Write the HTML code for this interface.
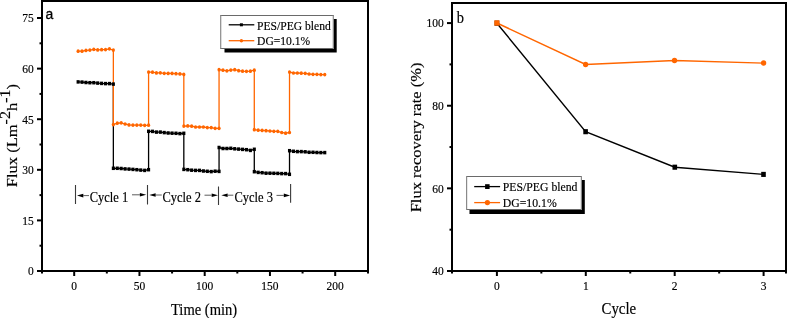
<!DOCTYPE html>
<html><head><meta charset="utf-8"><style>
html,body{margin:0;padding:0;background:#fff;}
body{width:787px;height:318px;overflow:hidden;font-family:"Liberation Serif",serif;}
svg{display:block;will-change:transform;}
</style></head><body>
<svg width="787" height="318" viewBox="0 0 787 318">
<rect width="787" height="318" fill="#fff"/>
<polyline points="78.12,81.9 82.03,82.1 85.95,82.5 89.86,82.7 93.78,82.7 97.69,83.1 101.61,83.4 105.52,83.6 109.44,83.6 113.35,84.1 113.35,168.3 117.27,168.3 121.18,168.5 125.09,168.9 129.01,169.1 132.93,169.4 136.84,169.7 140.75,170.1 144.67,170.4 148.58,169.7 148.58,131.3 152.5,131.4 156.41,132.1 160.33,132.1 164.25,132.6 168.16,133 172.07,133.2 175.99,133.3 179.91,133.6 183.82,133.3 183.82,169.4 187.74,169.7 191.65,170.2 195.56,170.4 199.48,170.4 203.39,171 207.31,171.3 211.23,171.6 215.14,171.2 219.06,171.4 219.06,147.5 222.97,148.5 226.88,148.5 230.8,148.3 234.71,148.8 238.63,149.1 242.55,149.4 246.46,149.7 250.38,150.4 254.29,149.3 254.29,171.7 258.2,172.4 262.12,172.7 266.03,173.2 269.95,173.2 273.87,173.3 277.78,173.4 281.69,173.6 285.61,173.6 289.52,174.3 289.52,150.7 293.44,151.3 297.36,151.6 301.27,151.6 305.19,151.8 309.1,152.3 313.01,152.3 316.93,152.5 320.84,152.6 324.76,152.6" fill="none" stroke="#000000" stroke-width="1.3"/>
<polyline points="78.12,51.2 82.03,51.2 85.95,50.4 89.86,50.1 93.78,49.3 97.69,49.9 101.61,49.7 105.52,49.6 109.44,48.8 113.35,50.1 113.35,124.6 117.27,123.2 121.18,122.8 125.09,124 129.01,124.9 132.93,125.1 136.84,125.1 140.75,125.1 144.67,125.3 148.58,125.2 148.58,72.1 152.5,72.2 156.41,72.9 160.33,72.8 164.25,73.3 168.16,73.4 172.07,73.4 175.99,73.7 179.91,73.9 183.82,74.4 183.82,126.1 187.74,125.9 191.65,126.2 195.56,127 199.48,127 203.39,127 207.31,127.6 211.23,127.6 215.14,128.3 219.06,128.3 219.06,69.7 222.97,70.2 226.88,70.8 230.8,70.1 234.71,69.7 238.63,70.7 242.55,71.2 246.46,71.3 250.38,71.2 254.29,70.2 254.29,129.7 258.2,130.2 262.12,130.4 266.03,130.7 269.95,131 273.87,131.3 277.78,131.3 281.69,132.5 285.61,133.2 289.52,132.5 289.52,72.1 293.44,73 297.36,73 301.27,73.2 305.19,73.3 309.1,74 313.01,74.3 316.93,74.3 320.84,74.6 324.76,74.6" fill="none" stroke="#ff6600" stroke-width="1.3"/>
<rect x="76.57" y="80.15" width="3.1" height="3.5" fill="#000000"/>
<rect x="80.48" y="80.35" width="3.1" height="3.5" fill="#000000"/>
<rect x="84.4" y="80.75" width="3.1" height="3.5" fill="#000000"/>
<rect x="88.31" y="80.95" width="3.1" height="3.5" fill="#000000"/>
<rect x="92.23" y="80.95" width="3.1" height="3.5" fill="#000000"/>
<rect x="96.14" y="81.35" width="3.1" height="3.5" fill="#000000"/>
<rect x="100.06" y="81.65" width="3.1" height="3.5" fill="#000000"/>
<rect x="103.97" y="81.85" width="3.1" height="3.5" fill="#000000"/>
<rect x="107.89" y="81.85" width="3.1" height="3.5" fill="#000000"/>
<rect x="111.8" y="82.35" width="3.1" height="3.5" fill="#000000"/>
<rect x="111.8" y="166.55" width="3.1" height="3.5" fill="#000000"/>
<rect x="115.72" y="166.55" width="3.1" height="3.5" fill="#000000"/>
<rect x="119.63" y="166.75" width="3.1" height="3.5" fill="#000000"/>
<rect x="123.55" y="167.15" width="3.1" height="3.5" fill="#000000"/>
<rect x="127.46" y="167.35" width="3.1" height="3.5" fill="#000000"/>
<rect x="131.38" y="167.65" width="3.1" height="3.5" fill="#000000"/>
<rect x="135.29" y="167.95" width="3.1" height="3.5" fill="#000000"/>
<rect x="139.2" y="168.35" width="3.1" height="3.5" fill="#000000"/>
<rect x="143.12" y="168.65" width="3.1" height="3.5" fill="#000000"/>
<rect x="147.03" y="167.95" width="3.1" height="3.5" fill="#000000"/>
<rect x="147.03" y="129.55" width="3.1" height="3.5" fill="#000000"/>
<rect x="150.95" y="129.65" width="3.1" height="3.5" fill="#000000"/>
<rect x="154.86" y="130.35" width="3.1" height="3.5" fill="#000000"/>
<rect x="158.78" y="130.35" width="3.1" height="3.5" fill="#000000"/>
<rect x="162.69" y="130.85" width="3.1" height="3.5" fill="#000000"/>
<rect x="166.61" y="131.25" width="3.1" height="3.5" fill="#000000"/>
<rect x="170.52" y="131.45" width="3.1" height="3.5" fill="#000000"/>
<rect x="174.44" y="131.55" width="3.1" height="3.5" fill="#000000"/>
<rect x="178.35" y="131.85" width="3.1" height="3.5" fill="#000000"/>
<rect x="182.27" y="131.55" width="3.1" height="3.5" fill="#000000"/>
<rect x="182.27" y="167.65" width="3.1" height="3.5" fill="#000000"/>
<rect x="186.19" y="167.95" width="3.1" height="3.5" fill="#000000"/>
<rect x="190.1" y="168.45" width="3.1" height="3.5" fill="#000000"/>
<rect x="194.01" y="168.65" width="3.1" height="3.5" fill="#000000"/>
<rect x="197.93" y="168.65" width="3.1" height="3.5" fill="#000000"/>
<rect x="201.84" y="169.25" width="3.1" height="3.5" fill="#000000"/>
<rect x="205.76" y="169.55" width="3.1" height="3.5" fill="#000000"/>
<rect x="209.68" y="169.85" width="3.1" height="3.5" fill="#000000"/>
<rect x="213.59" y="169.45" width="3.1" height="3.5" fill="#000000"/>
<rect x="217.5" y="169.65" width="3.1" height="3.5" fill="#000000"/>
<rect x="217.5" y="145.75" width="3.1" height="3.5" fill="#000000"/>
<rect x="221.42" y="146.75" width="3.1" height="3.5" fill="#000000"/>
<rect x="225.33" y="146.75" width="3.1" height="3.5" fill="#000000"/>
<rect x="229.25" y="146.55" width="3.1" height="3.5" fill="#000000"/>
<rect x="233.16" y="147.05" width="3.1" height="3.5" fill="#000000"/>
<rect x="237.08" y="147.35" width="3.1" height="3.5" fill="#000000"/>
<rect x="241" y="147.65" width="3.1" height="3.5" fill="#000000"/>
<rect x="244.91" y="147.95" width="3.1" height="3.5" fill="#000000"/>
<rect x="248.82" y="148.65" width="3.1" height="3.5" fill="#000000"/>
<rect x="252.74" y="147.55" width="3.1" height="3.5" fill="#000000"/>
<rect x="252.74" y="169.95" width="3.1" height="3.5" fill="#000000"/>
<rect x="256.65" y="170.65" width="3.1" height="3.5" fill="#000000"/>
<rect x="260.57" y="170.95" width="3.1" height="3.5" fill="#000000"/>
<rect x="264.48" y="171.45" width="3.1" height="3.5" fill="#000000"/>
<rect x="268.4" y="171.45" width="3.1" height="3.5" fill="#000000"/>
<rect x="272.31" y="171.55" width="3.1" height="3.5" fill="#000000"/>
<rect x="276.23" y="171.65" width="3.1" height="3.5" fill="#000000"/>
<rect x="280.14" y="171.85" width="3.1" height="3.5" fill="#000000"/>
<rect x="284.06" y="171.85" width="3.1" height="3.5" fill="#000000"/>
<rect x="287.97" y="172.55" width="3.1" height="3.5" fill="#000000"/>
<rect x="287.97" y="148.95" width="3.1" height="3.5" fill="#000000"/>
<rect x="291.89" y="149.55" width="3.1" height="3.5" fill="#000000"/>
<rect x="295.81" y="149.85" width="3.1" height="3.5" fill="#000000"/>
<rect x="299.72" y="149.85" width="3.1" height="3.5" fill="#000000"/>
<rect x="303.63" y="150.05" width="3.1" height="3.5" fill="#000000"/>
<rect x="307.55" y="150.55" width="3.1" height="3.5" fill="#000000"/>
<rect x="311.46" y="150.55" width="3.1" height="3.5" fill="#000000"/>
<rect x="315.38" y="150.75" width="3.1" height="3.5" fill="#000000"/>
<rect x="319.29" y="150.85" width="3.1" height="3.5" fill="#000000"/>
<rect x="323.21" y="150.85" width="3.1" height="3.5" fill="#000000"/>
<ellipse cx="78.12" cy="51.2" rx="1.6" ry="1.85" fill="#ff6600"/>
<ellipse cx="82.03" cy="51.2" rx="1.6" ry="1.85" fill="#ff6600"/>
<ellipse cx="85.95" cy="50.4" rx="1.6" ry="1.85" fill="#ff6600"/>
<ellipse cx="89.86" cy="50.1" rx="1.6" ry="1.85" fill="#ff6600"/>
<ellipse cx="93.78" cy="49.3" rx="1.6" ry="1.85" fill="#ff6600"/>
<ellipse cx="97.69" cy="49.9" rx="1.6" ry="1.85" fill="#ff6600"/>
<ellipse cx="101.61" cy="49.7" rx="1.6" ry="1.85" fill="#ff6600"/>
<ellipse cx="105.52" cy="49.6" rx="1.6" ry="1.85" fill="#ff6600"/>
<ellipse cx="109.44" cy="48.8" rx="1.6" ry="1.85" fill="#ff6600"/>
<ellipse cx="113.35" cy="50.1" rx="1.6" ry="1.85" fill="#ff6600"/>
<ellipse cx="113.35" cy="124.6" rx="1.6" ry="1.85" fill="#ff6600"/>
<ellipse cx="117.27" cy="123.2" rx="1.6" ry="1.85" fill="#ff6600"/>
<ellipse cx="121.18" cy="122.8" rx="1.6" ry="1.85" fill="#ff6600"/>
<ellipse cx="125.09" cy="124" rx="1.6" ry="1.85" fill="#ff6600"/>
<ellipse cx="129.01" cy="124.9" rx="1.6" ry="1.85" fill="#ff6600"/>
<ellipse cx="132.93" cy="125.1" rx="1.6" ry="1.85" fill="#ff6600"/>
<ellipse cx="136.84" cy="125.1" rx="1.6" ry="1.85" fill="#ff6600"/>
<ellipse cx="140.75" cy="125.1" rx="1.6" ry="1.85" fill="#ff6600"/>
<ellipse cx="144.67" cy="125.3" rx="1.6" ry="1.85" fill="#ff6600"/>
<ellipse cx="148.58" cy="125.2" rx="1.6" ry="1.85" fill="#ff6600"/>
<ellipse cx="148.58" cy="72.1" rx="1.6" ry="1.85" fill="#ff6600"/>
<ellipse cx="152.5" cy="72.2" rx="1.6" ry="1.85" fill="#ff6600"/>
<ellipse cx="156.41" cy="72.9" rx="1.6" ry="1.85" fill="#ff6600"/>
<ellipse cx="160.33" cy="72.8" rx="1.6" ry="1.85" fill="#ff6600"/>
<ellipse cx="164.25" cy="73.3" rx="1.6" ry="1.85" fill="#ff6600"/>
<ellipse cx="168.16" cy="73.4" rx="1.6" ry="1.85" fill="#ff6600"/>
<ellipse cx="172.07" cy="73.4" rx="1.6" ry="1.85" fill="#ff6600"/>
<ellipse cx="175.99" cy="73.7" rx="1.6" ry="1.85" fill="#ff6600"/>
<ellipse cx="179.91" cy="73.9" rx="1.6" ry="1.85" fill="#ff6600"/>
<ellipse cx="183.82" cy="74.4" rx="1.6" ry="1.85" fill="#ff6600"/>
<ellipse cx="183.82" cy="126.1" rx="1.6" ry="1.85" fill="#ff6600"/>
<ellipse cx="187.74" cy="125.9" rx="1.6" ry="1.85" fill="#ff6600"/>
<ellipse cx="191.65" cy="126.2" rx="1.6" ry="1.85" fill="#ff6600"/>
<ellipse cx="195.56" cy="127" rx="1.6" ry="1.85" fill="#ff6600"/>
<ellipse cx="199.48" cy="127" rx="1.6" ry="1.85" fill="#ff6600"/>
<ellipse cx="203.39" cy="127" rx="1.6" ry="1.85" fill="#ff6600"/>
<ellipse cx="207.31" cy="127.6" rx="1.6" ry="1.85" fill="#ff6600"/>
<ellipse cx="211.23" cy="127.6" rx="1.6" ry="1.85" fill="#ff6600"/>
<ellipse cx="215.14" cy="128.3" rx="1.6" ry="1.85" fill="#ff6600"/>
<ellipse cx="219.06" cy="128.3" rx="1.6" ry="1.85" fill="#ff6600"/>
<ellipse cx="219.06" cy="69.7" rx="1.6" ry="1.85" fill="#ff6600"/>
<ellipse cx="222.97" cy="70.2" rx="1.6" ry="1.85" fill="#ff6600"/>
<ellipse cx="226.88" cy="70.8" rx="1.6" ry="1.85" fill="#ff6600"/>
<ellipse cx="230.8" cy="70.1" rx="1.6" ry="1.85" fill="#ff6600"/>
<ellipse cx="234.71" cy="69.7" rx="1.6" ry="1.85" fill="#ff6600"/>
<ellipse cx="238.63" cy="70.7" rx="1.6" ry="1.85" fill="#ff6600"/>
<ellipse cx="242.55" cy="71.2" rx="1.6" ry="1.85" fill="#ff6600"/>
<ellipse cx="246.46" cy="71.3" rx="1.6" ry="1.85" fill="#ff6600"/>
<ellipse cx="250.38" cy="71.2" rx="1.6" ry="1.85" fill="#ff6600"/>
<ellipse cx="254.29" cy="70.2" rx="1.6" ry="1.85" fill="#ff6600"/>
<ellipse cx="254.29" cy="129.7" rx="1.6" ry="1.85" fill="#ff6600"/>
<ellipse cx="258.2" cy="130.2" rx="1.6" ry="1.85" fill="#ff6600"/>
<ellipse cx="262.12" cy="130.4" rx="1.6" ry="1.85" fill="#ff6600"/>
<ellipse cx="266.03" cy="130.7" rx="1.6" ry="1.85" fill="#ff6600"/>
<ellipse cx="269.95" cy="131" rx="1.6" ry="1.85" fill="#ff6600"/>
<ellipse cx="273.87" cy="131.3" rx="1.6" ry="1.85" fill="#ff6600"/>
<ellipse cx="277.78" cy="131.3" rx="1.6" ry="1.85" fill="#ff6600"/>
<ellipse cx="281.69" cy="132.5" rx="1.6" ry="1.85" fill="#ff6600"/>
<ellipse cx="285.61" cy="133.2" rx="1.6" ry="1.85" fill="#ff6600"/>
<ellipse cx="289.52" cy="132.5" rx="1.6" ry="1.85" fill="#ff6600"/>
<ellipse cx="289.52" cy="72.1" rx="1.6" ry="1.85" fill="#ff6600"/>
<ellipse cx="293.44" cy="73" rx="1.6" ry="1.85" fill="#ff6600"/>
<ellipse cx="297.36" cy="73" rx="1.6" ry="1.85" fill="#ff6600"/>
<ellipse cx="301.27" cy="73.2" rx="1.6" ry="1.85" fill="#ff6600"/>
<ellipse cx="305.19" cy="73.3" rx="1.6" ry="1.85" fill="#ff6600"/>
<ellipse cx="309.1" cy="74" rx="1.6" ry="1.85" fill="#ff6600"/>
<ellipse cx="313.01" cy="74.3" rx="1.6" ry="1.85" fill="#ff6600"/>
<ellipse cx="316.93" cy="74.3" rx="1.6" ry="1.85" fill="#ff6600"/>
<ellipse cx="320.84" cy="74.6" rx="1.6" ry="1.85" fill="#ff6600"/>
<ellipse cx="324.76" cy="74.6" rx="1.6" ry="1.85" fill="#ff6600"/>
<path d="M42 1H368V271H42Z" fill="none" stroke="#000" stroke-width="2"/>
<path d="M42 271V273.6M368 271V273.6" stroke="#000" stroke-width="2"/>
<path d="M37 271H42" stroke="#000" stroke-width="2"/>
<text transform="translate(33.8,275.4) scale(0.85,1)" text-anchor="end" font-family="Liberation Serif" stroke="#000" stroke-width="0.18" font-size="13.5">0</text>
<path d="M37 220.41H42" stroke="#000" stroke-width="2"/>
<text transform="translate(33.8,224.81) scale(0.85,1)" text-anchor="end" font-family="Liberation Serif" stroke="#000" stroke-width="0.18" font-size="13.5">15</text>
<path d="M37 169.81H42" stroke="#000" stroke-width="2"/>
<text transform="translate(33.8,174.21) scale(0.85,1)" text-anchor="end" font-family="Liberation Serif" stroke="#000" stroke-width="0.18" font-size="13.5">30</text>
<path d="M37 119.22H42" stroke="#000" stroke-width="2"/>
<text transform="translate(33.8,123.62) scale(0.85,1)" text-anchor="end" font-family="Liberation Serif" stroke="#000" stroke-width="0.18" font-size="13.5">45</text>
<path d="M37 68.62H42" stroke="#000" stroke-width="2"/>
<text transform="translate(33.8,73.02) scale(0.85,1)" text-anchor="end" font-family="Liberation Serif" stroke="#000" stroke-width="0.18" font-size="13.5">60</text>
<path d="M37 18.02H42" stroke="#000" stroke-width="2"/>
<text transform="translate(33.8,22.42) scale(0.85,1)" text-anchor="end" font-family="Liberation Serif" stroke="#000" stroke-width="0.18" font-size="13.5">75</text>
<path d="M39.5 245.7H42" stroke="#000" stroke-width="2"/>
<path d="M39.5 195.11H42" stroke="#000" stroke-width="2"/>
<path d="M39.5 144.51H42" stroke="#000" stroke-width="2"/>
<path d="M39.5 93.92H42" stroke="#000" stroke-width="2"/>
<path d="M39.5 43.32H42" stroke="#000" stroke-width="2"/>
<path d="M74.2 271V276" stroke="#000" stroke-width="2"/>
<text transform="translate(74.2,289.8) scale(0.85,1)" text-anchor="middle" font-family="Liberation Serif" stroke="#000" stroke-width="0.18" font-size="13.5">0</text>
<path d="M139.45 271V276" stroke="#000" stroke-width="2"/>
<text transform="translate(139.45,289.8) scale(0.85,1)" text-anchor="middle" font-family="Liberation Serif" stroke="#000" stroke-width="0.18" font-size="13.5">50</text>
<path d="M204.7 271V276" stroke="#000" stroke-width="2"/>
<text transform="translate(204.7,289.8) scale(0.85,1)" text-anchor="middle" font-family="Liberation Serif" stroke="#000" stroke-width="0.18" font-size="13.5">100</text>
<path d="M269.95 271V276" stroke="#000" stroke-width="2"/>
<text transform="translate(269.95,289.8) scale(0.85,1)" text-anchor="middle" font-family="Liberation Serif" stroke="#000" stroke-width="0.18" font-size="13.5">150</text>
<path d="M335.2 271V276" stroke="#000" stroke-width="2"/>
<text transform="translate(335.2,289.8) scale(0.85,1)" text-anchor="middle" font-family="Liberation Serif" stroke="#000" stroke-width="0.18" font-size="13.5">200</text>
<path d="M106.83 271V273.5" stroke="#000" stroke-width="2"/>
<path d="M172.07 271V273.5" stroke="#000" stroke-width="2"/>
<path d="M237.32 271V273.5" stroke="#000" stroke-width="2"/>
<path d="M302.57 271V273.5" stroke="#000" stroke-width="2"/>
<text transform="translate(171,314.6) scale(0.91,1)" font-family="Liberation Serif" stroke="#000" stroke-width="0.18" font-size="16">Time (min)</text>
<text transform="translate(16.6,187.2) scale(0.9,1) rotate(-90)" font-family="Liberation Serif" stroke="#000" stroke-width="0.18" font-size="16.5">Flux (Lm<tspan dy="-7.3" font-size="16">-2</tspan><tspan dy="7.3">h</tspan><tspan dy="-7.3" font-size="16">-1</tspan><tspan dy="7.3">)</tspan></text>
<text transform="translate(45.6,19.2) scale(0.9,1)" font-family="Liberation Sans" stroke="#000" stroke-width="0.3" font-size="15.5">a</text>
<g stroke="#3a3a3a" stroke-width="1.1">
<path d="M75.5 185V204"/>
<path d="M147.5 185V204.5"/>
<path d="M218.5 186.5V205"/>
<path d="M290.6 184V202.8"/>
</g>
<path d="M89 195.6H83.3" stroke="#333" stroke-width="0.8"/><path d="M77 195.6L83.3 193.8L83.3 197.4Z" fill="#000"/>
<path d="M132 194.8H139.9" stroke="#333" stroke-width="0.8"/><path d="M146.2 194.8L139.9 193L139.9 196.6Z" fill="#000"/>
<path d="M161.8 195H155.6" stroke="#333" stroke-width="0.8"/><path d="M149.3 195L155.6 193.2L155.6 196.8Z" fill="#000"/>
<path d="M204.5 195.2H211.7" stroke="#333" stroke-width="0.8"/><path d="M218 195.2L211.7 193.4L211.7 197Z" fill="#000"/>
<path d="M233.3 195.2H227.6" stroke="#333" stroke-width="0.8"/><path d="M221.3 195.2L227.6 193.4L227.6 197Z" fill="#000"/>
<path d="M276.5 195.4H283.8" stroke="#333" stroke-width="0.8"/><path d="M290.1 195.4L283.8 193.6L283.8 197.2Z" fill="#000"/>
<text transform="translate(89.8,202.3) scale(0.89,1)" font-family="Liberation Serif" stroke="#000" stroke-width="0.18" font-size="14">Cycle 1</text>
<text transform="translate(162.5,202) scale(0.89,1)" font-family="Liberation Serif" stroke="#000" stroke-width="0.18" font-size="14">Cycle 2</text>
<text transform="translate(234.5,202.3) scale(0.89,1)" font-family="Liberation Serif" stroke="#000" stroke-width="0.18" font-size="14">Cycle 3</text>
<rect x="224.5" y="19" width="112.2" height="33.5" fill="#000"/>
<rect x="220.5" y="15.5" width="113" height="33" fill="#fff"/>
<path d="M220 15.5H334M220 48.5H334" stroke="#6a6a6a" stroke-width="1"/>
<path d="M220.7 15V49M333.3 15V49" stroke="#8a8a8a" stroke-width="1.2"/>
<path d="M228.7 24.8H254.3" stroke="#000" stroke-width="1.3"/>
<rect x="239.9" y="23.3" width="3" height="3" fill="#000"/>
<path d="M228.7 40.7H254.3" stroke="#ff6600" stroke-width="1.3"/>
<circle cx="241.4" cy="40.8" r="1.7" fill="#ff6600"/>
<text transform="translate(257,29.7) scale(0.86,1)" font-family="Liberation Serif" stroke="#000" stroke-width="0.18" font-size="13.5">PES/PEG blend</text>
<text transform="translate(257,45.4) scale(0.86,1)" font-family="Liberation Serif" stroke="#000" stroke-width="0.18" font-size="13.5">DG=10.1%</text>
<polyline points="496.9,23.2 585.6,131.7 674.8,167.2 763.5,174.4" fill="none" stroke="#000" stroke-width="1.4"/>
<polyline points="496.9,23 585.6,64.5 674.5,60.5 763.6,63.1" fill="none" stroke="#ff6600" stroke-width="1.4"/>
<rect x="494.6" y="20.65" width="4.6" height="5.1" fill="#000"/>
<rect x="583.3" y="129.15" width="4.6" height="5.1" fill="#000"/>
<rect x="672.5" y="164.65" width="4.6" height="5.1" fill="#000"/>
<rect x="761.2" y="171.85" width="4.6" height="5.1" fill="#000"/>
<rect x="494.3" y="20.3" width="5.2" height="5.4" fill="#ff6600"/>
<ellipse cx="585.6" cy="64.5" rx="2.65" ry="2.75" fill="#ff6600"/>
<ellipse cx="674.5" cy="60.5" rx="2.65" ry="2.75" fill="#ff6600"/>
<ellipse cx="763.6" cy="63.1" rx="2.65" ry="2.75" fill="#ff6600"/>
<path d="M452 3H786V271H452Z" fill="none" stroke="#000" stroke-width="2"/>
<path d="M452 271V273.6M786 271V273.6" stroke="#000" stroke-width="2"/>
<path d="M447 271H452" stroke="#000" stroke-width="2"/>
<text transform="translate(443.8,275.4) scale(0.85,1)" text-anchor="end" font-family="Liberation Serif" stroke="#000" stroke-width="0.18" font-size="13.5">40</text>
<path d="M447 188.36H452" stroke="#000" stroke-width="2"/>
<text transform="translate(443.8,192.76) scale(0.85,1)" text-anchor="end" font-family="Liberation Serif" stroke="#000" stroke-width="0.18" font-size="13.5">60</text>
<path d="M447 105.72H452" stroke="#000" stroke-width="2"/>
<text transform="translate(443.8,110.12) scale(0.85,1)" text-anchor="end" font-family="Liberation Serif" stroke="#000" stroke-width="0.18" font-size="13.5">80</text>
<path d="M447 23.08H452" stroke="#000" stroke-width="2"/>
<text transform="translate(443.8,27.48) scale(0.85,1)" text-anchor="end" font-family="Liberation Serif" stroke="#000" stroke-width="0.18" font-size="13.5">100</text>
<path d="M449.5 229.68H452" stroke="#000" stroke-width="2"/>
<path d="M449.5 147.04H452" stroke="#000" stroke-width="2"/>
<path d="M449.5 64.4H452" stroke="#000" stroke-width="2"/>
<path d="M496.9 271V276" stroke="#000" stroke-width="2"/>
<text transform="translate(496.9,289.8) scale(0.85,1)" text-anchor="middle" font-family="Liberation Serif" stroke="#000" stroke-width="0.18" font-size="13.5">0</text>
<path d="M585.8 271V276" stroke="#000" stroke-width="2"/>
<text transform="translate(585.8,289.8) scale(0.85,1)" text-anchor="middle" font-family="Liberation Serif" stroke="#000" stroke-width="0.18" font-size="13.5">1</text>
<path d="M674.7 271V276" stroke="#000" stroke-width="2"/>
<text transform="translate(674.7,289.8) scale(0.85,1)" text-anchor="middle" font-family="Liberation Serif" stroke="#000" stroke-width="0.18" font-size="13.5">2</text>
<path d="M763.6 271V276" stroke="#000" stroke-width="2"/>
<text transform="translate(763.6,289.8) scale(0.85,1)" text-anchor="middle" font-family="Liberation Serif" stroke="#000" stroke-width="0.18" font-size="13.5">3</text>
<path d="M541.35 271V273.5" stroke="#000" stroke-width="2"/>
<path d="M630.25 271V273.5" stroke="#000" stroke-width="2"/>
<path d="M719.15 271V273.5" stroke="#000" stroke-width="2"/>
<text transform="translate(601.5,314.4) scale(0.9,1)" font-family="Liberation Serif" stroke="#000" stroke-width="0.18" font-size="16.5">Cycle</text>
<text transform="translate(420.6,212.3) scale(0.9,1) rotate(-90)" font-family="Liberation Serif" stroke="#000" stroke-width="0.18" font-size="16.5">Flux recovery rate (%)</text>
<text transform="translate(456.8,22.6) scale(0.92,1)" font-family="Liberation Serif" stroke="#000" stroke-width="0.18" font-size="15.7">b</text>
<rect x="469.5" y="180" width="115.3" height="34" fill="#000"/>
<rect x="466.5" y="176.5" width="115" height="33" fill="#fff"/>
<path d="M466 176.5H582M466 209.5H582" stroke="#6a6a6a" stroke-width="1"/>
<path d="M466.6 176V210M581.4 176V210" stroke="#8a8a8a" stroke-width="1.2"/>
<path d="M474.2 186.6H500.1" stroke="#000" stroke-width="1.3"/>
<rect x="485.1" y="184.2" width="4.5" height="4.8" fill="#000"/>
<path d="M474.2 202.6H500.1" stroke="#ff6600" stroke-width="1.3"/>
<circle cx="487.4" cy="202.6" r="2.6" fill="#ff6600"/>
<text transform="translate(502.8,190.9) scale(0.87,1)" font-family="Liberation Serif" stroke="#000" stroke-width="0.18" font-size="13.5">PES/PEG blend</text>
<text transform="translate(502.8,207.1) scale(0.87,1)" font-family="Liberation Serif" stroke="#000" stroke-width="0.18" font-size="13.5">DG=10.1%</text>
</svg>
</body></html>
